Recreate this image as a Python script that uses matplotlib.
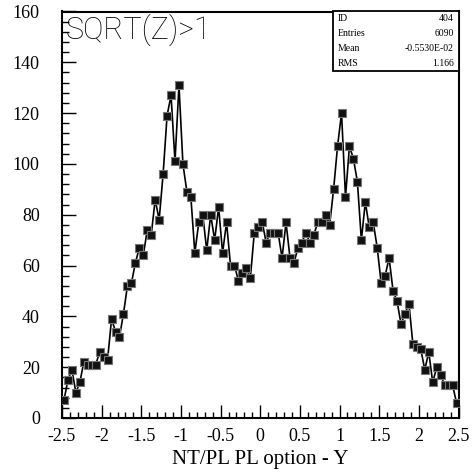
import matplotlib
matplotlib.use('Agg')
import matplotlib.pyplot as plt
from matplotlib.ticker import MultipleLocator
from matplotlib.patches import Rectangle
import numpy as np

# histogram 404: 100 bins in [-2.5, 2.5], contents
x_lo, x_hi, n_bins = -2.5, 2.5, 100
counts = [7, 15, 19, 10, 14, 22, 21, 21, 21, 26,
          24, 23, 39, 34, 32, 41, 52, 53, 61, 67,
          64, 74, 72, 86, 78, 96, 119, 127, 101, 131,
          100, 89, 87, 65, 77, 80, 66, 80, 70, 83,
          65, 77, 60, 60, 54, 57, 59, 55, 73, 75,
          77, 69, 73, 73, 73, 63, 77, 63, 61, 67,
          69, 73, 69, 72, 77, 77, 80, 76, 90, 107,
          120, 87, 107, 102, 93, 70, 85, 75, 77, 67,
          53, 56, 63, 50, 46, 37, 41, 45, 29, 28,
          27, 19, 26, 14, 20, 17, 13, 13, 13, 6]
x_ticks = [-2.5, -2, -1.5, -1, -0.5, 0, 0.5, 1, 1.5, 2, 2.5]
x_tick_labels = ['-2.5', '-2', '-1.5', '-1', '-0.5', '0', '0.5', '1', '1.5', '2', '2.5']
stat_names = ['ID', 'Entries', 'Mean', 'RMS']
stat_values = ['404', '6090', '-0.5530E-02', '1.166']
title = 'SQRT(Z)>1'
xlabel = 'NT/PL PL option - Y'

edges = np.linspace(x_lo, x_hi, n_bins + 1)
centers = 0.5 * (edges[:-1] + edges[1:])

serif = ['Liberation Serif', 'DejaVu Serif']

fig = plt.figure(figsize=(4.72, 4.74), dpi=100)
W, H = 472, 474
ax = fig.add_axes([62 / W, (H - 418) / H, (458.5 - 62) / W, (418 - 11.5) / H])

ax.plot(centers, counts, color='black', lw=1.2, marker='s', ms=5.5,
        mfc='#111111', mec='#777777', mew=0.8, zorder=3)

ax.set_xlim(x_lo, x_hi)
ax.set_ylim(0, 160)
ax.set_xticks(x_ticks)
ax.set_xticklabels(x_tick_labels)
ax.xaxis.set_minor_locator(MultipleLocator(0.1))
ax.yaxis.set_major_locator(MultipleLocator(20))
ax.yaxis.set_minor_locator(MultipleLocator(4))

ax.tick_params(which='both', direction='in', top=False, right=False, width=1.0)
ax.tick_params(axis='x', which='major', length=9.5, pad=7, labelsize=13)
ax.tick_params(axis='x', which='minor', length=4.5)
ax.tick_params(axis='y', which='major', length=10, pad=16, labelsize=13)
ax.tick_params(axis='y', which='minor', length=5)
for lab in ax.get_xticklabels() + ax.get_yticklabels():
    lab.set_family(serif)

for sp in ax.spines.values():
    sp.set_linewidth(1.5)

ax.set_xlabel(xlabel, family=serif, fontsize=15, labelpad=4)

ax.text(0.008, 0.995, title, transform=ax.transAxes, ha='left', va='top',
        family=['Roboto', 'DejaVu Sans'], fontweight='light', fontsize=22)

# statistics box in the top right corner
bx0, by0 = (333 - 62) / 396.5, (418 - 71) / 406.5
ax.add_patch(Rectangle((bx0, by0), 1 - bx0, 1 - by0, transform=ax.transAxes,
                       fill=True, fc='white', ec='black', lw=1.3, zorder=5, clip_on=False))
row_h = (1 - by0) / len(stat_names)
for k, (nm, vl) in enumerate(zip(stat_names, stat_values)):
    yy = 1 - (k + 0.5) * row_h
    ax.text(bx0 + 0.011, yy, nm, transform=ax.transAxes, ha='left', va='center',
            family=serif, fontsize=7, zorder=6)
    ax.text(0.988, yy, vl, transform=ax.transAxes, ha='right', va='center',
            family=serif, fontsize=7, zorder=6)

fig.savefig('out.png', dpi=100)
